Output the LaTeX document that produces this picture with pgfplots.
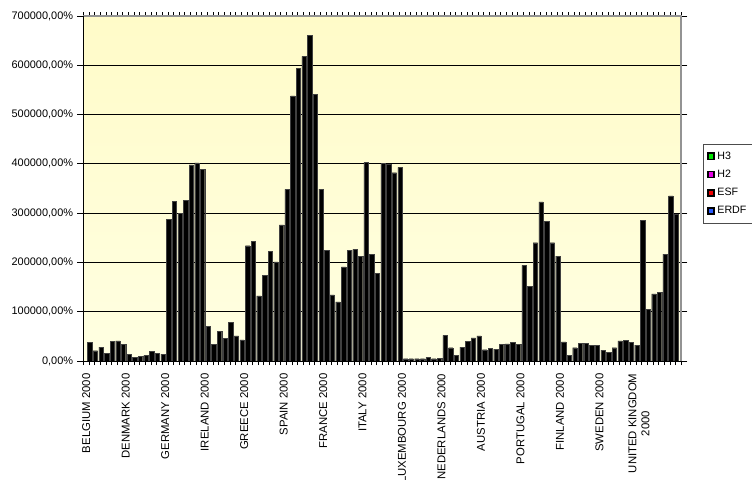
\documentclass[border=0pt]{standalone}
\usepackage{fontspec}
\setmainfont{Liberation Sans}
\usepackage{pgfplots}
\pgfplotsset{compat=1.18}
\begin{document}
\begin{tikzpicture}
\useasboundingbox (0pt,0pt) rectangle (564pt,359.25pt);
\begin{axis}[
  at={(62.5pt,88.5pt)}, anchor=south west,
  scale only axis, width=448.5pt, height=258.75pt,
  xmin=-0.5, xmax=105.5, ymin=0, ymax=700000,
  ybar, bar width=0.78,
  axis background/.style={top color={rgb,255:red,255;green,251;blue,200}, bottom color={rgb,255:red,255;green,255;blue,226}},
  axis line style={draw=none},
  xtick={0,7,...,98},
  xticklabels={BELGIUM 2000,DENMARK 2000,GERMANY 2000,IRELAND 2000,GREECE 2000,SPAIN 2000,FRANCE 2000,ITALY 2000,LUXEMBOURG 2000,NEDERLANDS 2000,AUSTRIA 2000,PORTUGAL 2000,FINLAND 2000,SWEDEN 2000,{UNITED KINGDOM\\2000}},
  minor xtick={-0.5,0.5,...,105.5},
  every major x tick/.style={draw=none},
  x tick label style={rotate=90, anchor=east, align=center, font=\fontsize{8.5}{9.8}\selectfont, inner xsep=3.6pt, inner ysep=1pt, xshift=-1.2pt},
  ytick={0,100000,...,700000},
  yticklabels={{0,00\%},{100000,00\%},{200000,00\%},{300000,00\%},{400000,00\%},{500000,00\%},{600000,00\%},{700000,00\%}},
  y tick label style={font=\fontsize{8.2}{9.6}\selectfont, inner xsep=3pt},
  scaled y ticks=false,
  tick align=outside, major tick length=4.5pt, minor tick length=3pt,
  tick style={black, line width=0.6pt},
  ymajorgrids, major grid style={black, line width=0.6pt},
  legend style={at={(1.0358,0.629)}, anchor=north west, draw=black!70, font=\fontsize{8}{9}\selectfont, row sep=2.6pt, inner xsep=3pt, inner ysep=3.5pt, legend cell align=left},
  after end axis/.code={
    \draw[gray!85, line width=1.4pt] (rel axis cs:0,1) -- (rel axis cs:1,1) -- (rel axis cs:1,0);
    \draw[black, line width=0.7pt] (rel axis cs:0,1) -- (rel axis cs:0,0) -- (rel axis cs:1,0);
  },
]
\addplot[fill=black, draw=black!75, line width=0.2pt, forget plot] coordinates {
(0,38000) (1,21000) (2,28000) (3,15000) (4,40000) (5,41000) (6,34000)
(7,13500) (8,7000) (9,10000) (10,12000) (11,20000) (12,15000) (13,14000)
(14,288000) (15,324000) (16,300000) (17,326000) (18,398000) (19,402000) (20,389000)
(21,70000) (22,34500) (23,60000) (24,46000) (25,78000) (26,51000) (27,43000)
(28,234000) (29,243000) (30,132000) (31,174000) (32,223000) (33,201000) (34,276000)
(35,348000) (36,538000) (37,594000) (38,618000) (39,661000) (40,541000) (41,349000)
(42,224000) (43,134000) (44,120000) (45,191000) (46,225000) (47,226000) (48,213000)
(49,403000) (50,216000) (51,178000) (52,401000) (53,400000) (54,382000) (55,393000)
(56,4700) (57,4700) (58,4700) (59,4700) (60,7000) (61,4700) (62,6000)
(63,52000) (64,27000) (65,12000) (66,28000) (67,40000) (68,47000) (69,51000)
(70,23000) (71,26000) (72,24000) (73,34000) (74,35000) (75,38500) (76,34500)
(77,194000) (78,151000) (79,240000) (80,323000) (81,283000) (82,240000) (83,213000)
(84,39000) (85,12000) (86,27000) (87,36000) (88,36000) (89,32000) (90,32000)
(91,22000) (92,17000) (93,27000) (94,41000) (95,42500) (96,38500) (97,32000)
(98,285000) (99,105000) (100,136000) (101,140000) (102,217000) (103,335000) (104,298000)
};
\addlegendimage{legend image code/.code={\draw[fill={rgb,255:red,0;green,230;blue,0}, draw=black, line width=1.2pt] (0pt,-2.3pt) rectangle (4.6pt,2.3pt);}}
\addlegendentry{H3}
\addlegendimage{legend image code/.code={\draw[fill={rgb,255:red,230;green,0;blue,230}, draw=black, line width=1.2pt] (0pt,-2.3pt) rectangle (4.6pt,2.3pt);}}
\addlegendentry{H2}
\addlegendimage{legend image code/.code={\draw[fill={rgb,255:red,240;green,0;blue,0}, draw=black, line width=1.2pt] (0pt,-2.3pt) rectangle (4.6pt,2.3pt);}}
\addlegendentry{ESF}
\addlegendimage{legend image code/.code={\draw[fill={rgb,255:red,40;green,90;blue,255}, draw=black, line width=1.2pt] (0pt,-2.3pt) rectangle (4.6pt,2.3pt);}}
\addlegendentry{ERDF}
\end{axis}
\end{tikzpicture}
\end{document}
